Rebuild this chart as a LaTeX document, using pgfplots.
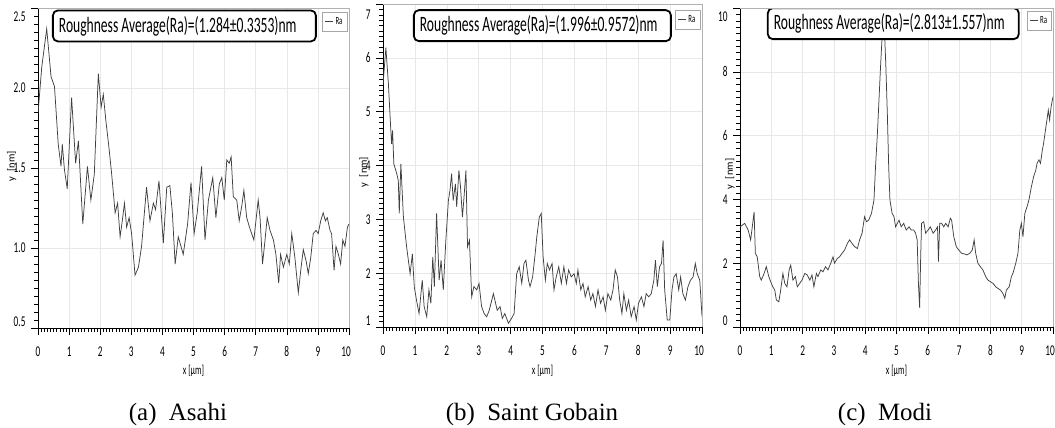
\documentclass[border=0pt]{standalone}
\usepackage{fontspec}
\setmainfont{Liberation Serif}
\newfontfamily\cond[FakeStretch=0.62]{Carlito}
\newfontfamily\calib{Carlito}
\usepackage{pgfplots}
\pgfplotsset{compat=1.18}
\definecolor{trace}{gray}{0.25}
\newcommand{\up}[2]{\raisebox{#1}[\height][\depth]{#2}}
\pgfplotsset{
  afm/.style={
    scale only axis, anchor=south west,
    xmin=0, xmax=10, xtick={0,...,10},
    xticklabels={0,1,2,3,4,5,6,7,8,9,{10\hspace*{6bp}}},
    minor x tick num=9, minor y tick num=9,
    axis x line*=bottom, axis y line*=left,
    axis line style={black, line width=0.8bp},
    tick align=outside,
    major tick length=7bp, minor tick length=4bp,
    tick style={black, line width=0.5bp},
    minor tick style={black, line width=0.4bp},
    grid=major, grid style={gray!18, line width=0.5bp},
    tick label style={font=\cond\fontsize{15}{15}\selectfont},
    xticklabel style={yshift=-8bp},
    yticklabel style={xshift=-2bp},
    xlabel style={font=\cond\fontsize{13}{13}\selectfont},
    ylabel style={font=\calib\fontsize{10.5}{11}\selectfont, rotate=0},
    xlabel={x [µm]}, ylabel={y\enspace[nm]},
    legend style={draw=gray!70, fill=white, font=\cond\fontsize{11}{11}\selectfont,
      inner xsep=2.5bp, inner ysep=3bp, anchor=north east, legend cell align=left},
    legend image code/.code={\draw[#1] (0bp,0bp) -- (8bp,0bp);},
    after end axis/.code={\draw[gray!60, line width=0.6bp] (rel axis cs:0,1) -- (rel axis cs:1,1) -- (rel axis cs:1,0);},
  },
  trc/.style={trace, line width=0.75bp, mark=none},
}
\tikzset{
  rbox/.style={draw=black, line width=1.8bp, rounded corners=5bp, fill=white,
    inner xsep=6bp, inner ysep=0pt, minimum height=31bp, anchor=west,
    font=\cond\fontsize{22}{22}\selectfont},
}
\begin{document}
\begin{tikzpicture}
\useasboundingbox (0,0) rectangle (1055bp,-428bp);

% (a) Asahi
\begin{axis}[afm, at={(38bp,-328bp)}, width=311bp, height=320bp,
  ymin=0.5, ymax=2.5, ytick={0.5,1.0,1.5,2.0,2.5},
  yticklabels={\up{6bp}{0.5},1.0,1.5,2.0,\up{-9bp}{2.5}},
  xlabel style={at={(axis description cs:0.5,-0.134)}, anchor=center},
  ylabel style={at={(axis description cs:-0.085,0.505)}, anchor=center},
  legend style={at={(0.994,0.987)}}]
\addplot[trc] coordinates {(0,1.84) (0.12,2.13) (0.28,2.37) (0.42,2.07) (0.53,2.01) (0.65,1.65) (0.74,1.51) (0.78,1.65) (0.85,1.49) (0.94,1.37) (1.08,1.94) (1.21,1.53) (1.30,1.67) (1.44,1.15) (1.59,1.51) (1.70,1.30) (1.81,1.46) (1.94,2.09) (2.03,1.88) (2.10,1.96) (2.18,1.80) (2.28,1.63) (2.37,1.46) (2.48,1.22) (2.56,1.28) (2.64,1.07) (2.71,1.17) (2.78,1.28) (2.85,1.13) (2.93,1.19) (3.01,1.09) (3.12,0.83) (3.23,0.88) (3.33,1.01) (3.49,1.38) (3.60,1.17) (3.71,1.28) (3.78,1.24) (3.89,1.42) (4.03,1.03) (4.14,1.38) (4.24,1.39) (4.32,1.22) (4.41,0.90) (4.51,1.07) (4.67,0.96) (4.81,1.15) (4.92,1.41) (5.02,1.09) (5.12,1.22) (5.26,1.51) (5.37,1.05) (5.48,1.30) (5.62,1.44) (5.72,1.19) (5.83,1.40) (5.91,1.44) (5.99,1.30) (6.07,1.55) (6.15,1.53) (6.21,1.57) (6.28,1.32) (6.39,1.30) (6.47,1.17) (6.55,1.26) (6.62,1.36) (6.71,1.19) (6.80,1.13) (6.87,1.09) (6.94,1.05) (7.08,1.30) (7.14,1.19) (7.22,0.90) (7.30,1.05) (7.37,1.19) (7.46,1.11) (7.57,1.05) (7.65,0.96) (7.74,0.78) (7.80,0.96) (7.89,0.88) (8.00,0.96) (8.08,0.90) (8.16,1.09) (8.26,0.94) (8.37,0.72) (8.46,0.88) (8.53,0.99) (8.62,0.92) (8.69,0.84) (8.77,0.94) (8.85,1.09) (8.94,1.11) (9.01,1.09) (9.09,1.17) (9.17,1.22) (9.24,1.17) (9.30,1.19) (9.39,1.11) (9.44,1.09) (9.52,0.86) (9.58,1.01) (9.66,0.96) (9.73,0.90) (9.80,1.05) (9.87,1.01) (9.95,1.13) (10.0,1.15)};
\addlegendentry{Ra}
\node[rbox] at (rel axis cs:0.045,0.944) {\makebox[251bp][l]{Roughness Average(Ra)=(1.284±0.3353)nm}};
\end{axis}

% (b) Saint Gobain
\begin{axis}[afm, at={(383bp,-327bp)}, width=319bp, height=323bp,
  ymin=1, ymax=7, ytick={1,...,7},
  yticklabels={\up{6bp}{1},2,3,4,5,6,\up{-11bp}{7}},
  xlabel style={at={(axis description cs:0.5,-0.136)}, anchor=center},
  ylabel style={at={(axis description cs:-0.06,0.48)}, anchor=center},
  legend style={at={(0.994,0.981)}}]
\addplot[trc] coordinates {(0,5.5) (0.09,6.19) (0.17,5.51) (0.24,4.71) (0.27,4.40) (0.30,4.65) (0.34,4.03) (0.43,3.85) (0.48,3.72) (0.51,3.11) (0.56,4.03) (0.64,3.04) (0.74,2.49) (0.85,1.99) (0.92,2.36) (0.98,1.75) (1.05,1.50) (1.13,1.25) (1.23,1.87) (1.29,1.38) (1.37,1.19) (1.44,1.69) (1.50,1.44) (1.56,2.30) (1.61,1.75) (1.68,3.11) (1.76,1.87) (1.82,2.24) (1.89,1.69) (1.97,2.61) (2.05,3.35) (2.10,3.54) (2.15,3.85) (2.20,3.35) (2.27,3.66) (2.31,3.23) (2.38,3.91) (2.43,3.60) (2.49,3.04) (2.54,3.41) (2.60,3.91) (2.65,2.49) (2.71,2.61) (2.78,1.56) (2.85,1.75) (2.94,1.69) (3.01,1.81) (3.09,1.38) (3.17,1.25) (3.25,1.19) (3.33,1.31) (3.41,1.50) (3.46,1.62) (3.53,1.44) (3.58,1.31) (3.67,1.38) (3.74,1.16) (3.82,1.25) (3.93,1.07) (4.03,1.16) (4.11,1.25) (4.19,1.99) (4.27,2.12) (4.35,1.81) (4.42,2.18) (4.48,2.24) (4.56,1.87) (4.61,1.75) (4.69,1.93) (4.77,2.36) (4.82,2.67) (4.90,3.04) (4.96,3.11) (5.02,2.30) (5.09,1.87) (5.15,2.18) (5.22,2.06) (5.30,2.18) (5.36,1.69) (5.43,1.93) (5.51,2.12) (5.59,1.81) (5.67,2.12) (5.75,1.81) (5.82,2.06) (5.90,1.93) (5.99,1.99) (6.06,1.81) (6.11,2.06) (6.20,1.69) (6.27,1.81) (6.34,1.56) (6.43,1.75) (6.51,1.50) (6.58,1.62) (6.66,1.38) (6.74,1.69) (6.82,1.44) (6.90,1.56) (6.97,1.31) (7.05,1.62) (7.14,1.50) (7.21,1.69) (7.28,2.06) (7.35,1.93) (7.42,1.50) (7.49,1.25) (7.55,1.62) (7.63,1.31) (7.70,1.50) (7.78,1.19) (7.87,1.38) (7.94,1.13) (8.01,1.44) (8.10,1.56) (8.18,1.38) (8.25,1.62) (8.33,1.56) (8.41,1.62) (8.49,1.87) (8.54,2.24) (8.60,1.75) (8.67,2.12) (8.73,2.18) (8.78,2.61) (8.83,1.69) (8.91,1.13) (8.99,1.13) (9.06,1.69) (9.12,1.93) (9.19,1.99) (9.27,1.69) (9.33,1.93) (9.40,1.62) (9.48,1.50) (9.56,1.75) (9.64,1.87) (9.72,1.93) (9.79,2.18) (9.85,1.99) (9.93,1.87) (10.0,1.2)};
\addlegendentry{Ra}
\node[rbox] at (rel axis cs:0.094,0.933) {\makebox[245bp][l]{Roughness Average(Ra)=(1.996±0.9572)nm}};
\end{axis}

% (c) Modi
\begin{axis}[afm, at={(740bp,-327bp)}, width=313bp, height=319bp,
  ymin=0, ymax=10, ytick={0,2,...,10},
  yticklabels={\up{6bp}{0},2,4,6,8,\up{-9bp}{10}},
  xlabel style={at={(axis description cs:0.5,-0.138)}, anchor=center},
  ylabel style={at={(axis description cs:-0.032,0.48)}, anchor=center},
  legend style={at={(0.996,0.99)}}]
\addplot[trc] coordinates {(0,3.14) (0.15,3.25) (0.26,3.04) (0.34,2.73) (0.38,3.04) (0.45,3.61) (0.49,2.31) (0.55,2.20) (0.63,1.58) (0.68,1.47) (0.77,1.68) (0.84,1.89) (0.92,1.58) (1.00,1.37) (1.05,1.26) (1.11,1.16) (1.16,0.85) (1.24,0.79) (1.30,1.16) (1.37,1.68) (1.43,1.37) (1.50,1.26) (1.57,1.79) (1.62,1.94) (1.69,1.47) (1.77,1.58) (1.83,1.26) (1.91,1.37) (1.98,1.47) (2.07,1.68) (2.15,1.63) (2.23,1.47) (2.30,1.63) (2.36,1.26) (2.44,1.68) (2.49,1.58) (2.58,1.79) (2.65,1.73) (2.73,1.89) (2.81,1.79) (2.90,2.00) (2.97,2.20) (3.02,2.00) (3.11,2.15) (3.18,2.20) (3.26,2.31) (3.34,2.41) (3.43,2.62) (3.50,2.73) (3.58,2.62) (3.66,2.52) (3.75,2.46) (3.82,2.73) (3.90,2.94) (3.98,3.46) (4.04,3.30) (4.11,3.35) (4.20,3.56) (4.28,3.98) (4.33,5.03) (4.39,6.07) (4.44,7.12) (4.49,8.16) (4.54,9.10) (4.58,9.5) (4.62,9.18) (4.66,8.16) (4.71,6.59) (4.75,5.03) (4.79,3.98) (4.86,3.56) (4.92,3.46) (4.97,3.14) (5.08,3.35) (5.15,3.14) (5.23,3.25) (5.31,3.04) (5.40,3.14) (5.47,3.04) (5.55,3.04) (5.61,2.94) (5.66,2.73) (5.70,1.37) (5.74,0.6) (5.77,2.10) (5.80,3.25) (5.87,3.30) (5.93,2.94) (6.01,3.04) (6.08,3.14) (6.17,2.94) (6.25,3.04) (6.31,3.14) (6.34,2.05) (6.38,3.25) (6.44,3.25) (6.51,3.14) (6.57,3.25) (6.65,3.14) (6.72,3.41) (6.76,3.35) (6.83,2.83) (6.91,2.52) (6.99,2.41) (7.08,2.31) (7.17,2.29) (7.25,2.26) (7.34,2.31) (7.42,2.41) (7.48,2.73) (7.53,2.31) (7.60,2.00) (7.68,1.89) (7.76,1.79) (7.85,1.58) (7.92,1.47) (8.00,1.42) (8.08,1.37) (8.17,1.26) (8.24,1.21) (8.32,1.16) (8.40,1.05) (8.46,0.9) (8.51,1.16) (8.60,1.26) (8.67,1.58) (8.72,1.68) (8.81,2.00) (8.88,2.31) (8.94,3.04) (8.99,3.25) (9.04,2.83) (9.10,3.56) (9.17,3.77) (9.23,3.98) (9.31,4.40) (9.38,4.71) (9.45,4.92) (9.49,5.13) (9.55,5.24) (9.60,5.13) (9.66,5.55) (9.70,5.76) (9.76,6.18) (9.82,6.59) (9.85,6.80) (9.89,6.49) (9.94,6.91) (10.0,7.22)};
\addlegendentry{Ra}
\node[rbox] at (rel axis cs:0.086,0.951) {\makebox[239bp][l]{Roughness Average(Ra)=(2.813±1.557)nm}};
\end{axis}

\node[font=\fontsize{25}{25}\selectfont, anchor=base] at (178bp,-420bp) {(a)\enspace Asahi};
\node[font=\fontsize{25}{25}\selectfont, anchor=base] at (532bp,-420bp) {(b)\enspace Saint Gobain};
\node[font=\fontsize{25}{25}\selectfont, anchor=base] at (885bp,-420bp) {(c)\enspace Modi};
\end{tikzpicture}
\end{document}
